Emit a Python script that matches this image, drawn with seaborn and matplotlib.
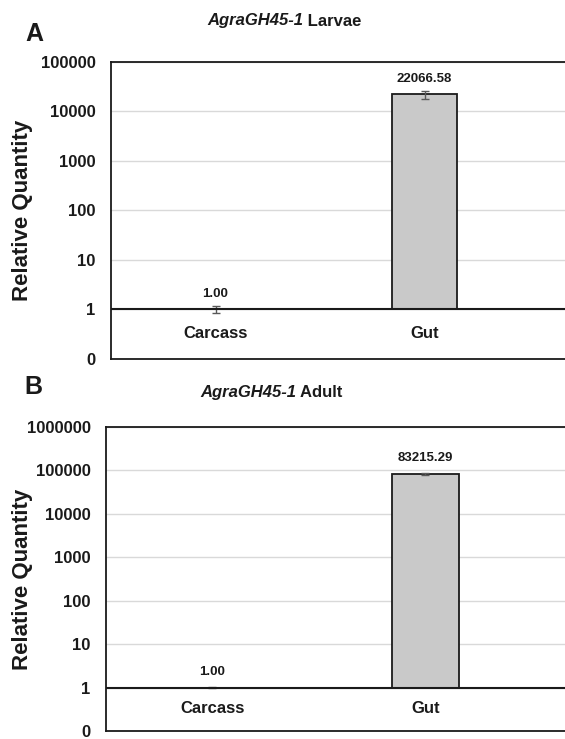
import seaborn as sns
import matplotlib.pyplot as plt
import pandas as pd
from matplotlib.ticker import NullLocator

# ----------------------------
# Data
# ----------------------------
tissues = ['Carcass', 'Gut']

larvae_values = [1.00, 22066.58]
larvae_errors = [0.15, 4000]
larvae_ticks = [0.1, 1, 10, 100, 1000, 10000, 100000]
larvae_tick_labels = ['0', '1', '10', '100', '1000', '10000', '100000']

adult_values = [1.00, 83215.29]
adult_errors = [0.03, 5000]
adult_ticks = [0.1, 1, 10, 100, 1000, 10000, 100000, 1000000]
adult_tick_labels = ['0', '1', '10', '100', '1000', '10000', '100000', '1000000']

INK = '#1a1a1a'

sns.set_style("white")
plt.rcParams['font.family'] = ['Liberation Sans', 'DejaVu Sans']


def draw_panel(ax, values, errors, ticks, tick_labels, xmax, ylabel_x):
    df = pd.DataFrame({'Tissue': tissues, 'Quantity': values})
    sns.barplot(data=df, x='Tissue', y='Quantity', ax=ax, color='#c9c9c9',
                edgecolor=INK, linewidth=1.3, width=0.31, errorbar=None,
                saturation=1, zorder=3)
    ax.set_yscale('log')
    # Excel style: bars grow from the horizontal axis that crosses at 1
    for bar, v in zip(ax.patches, values):
        bar.set_y(1)
        bar.set_height(v - 1)

    ax.errorbar(range(len(tissues)), values, yerr=errors, fmt='none',
                ecolor='#595959', elinewidth=1, capsize=3, capthick=1, zorder=4)

    for i, v in enumerate(values):
        ax.annotate(f'{v:.2f}', (i, v), xytext=(0, 7), textcoords='offset points',
                    ha='center', va='bottom', fontsize=9.5, fontweight='bold',
                    color=INK)
        ax.text(i, 0.33, tissues[i], ha='center', va='center', fontsize=12,
                fontweight='bold', color=INK)

    ax.axhline(1, color=INK, lw=1.5, zorder=5)

    ax.set_ylim(ticks[0], ticks[-1])
    ax.set_xlim(-0.5, xmax)
    ax.set_yticks(ticks)
    ax.set_yticklabels(tick_labels)
    ax.yaxis.set_minor_locator(NullLocator())
    ax.tick_params(axis='y', length=0, pad=11, labelsize=12, labelcolor=INK)
    for lbl in ax.get_yticklabels():
        lbl.set_fontweight('bold')
    ax.tick_params(axis='x', length=0, labelbottom=False)
    ax.set_xlabel('')

    ax.set_axisbelow(True)
    ax.yaxis.grid(True, color='#d9d9d9', lw=1)

    for side in ['left', 'top', 'bottom']:
        ax.spines[side].set_color(INK)
        ax.spines[side].set_linewidth(1.3)
    ax.spines['right'].set_visible(False)

    ax.set_ylabel('Relative Quantity', fontsize=16, fontweight='bold', color=INK)
    ax.yaxis.set_label_coords(ylabel_x, 0.5)


W, H = 565, 739
fig = plt.figure(figsize=(W / 100, H / 100), dpi=100)

ax_a = fig.add_axes([111 / W, 1 - 359 / H, (W - 111) / W, (359 - 62) / H])
draw_panel(ax_a, larvae_values, larvae_errors, larvae_ticks, larvae_tick_labels,
           1.672, -0.172)

ax_b = fig.add_axes([106 / W, 1 - 731 / H, (W - 106) / W, (731 - 427) / H])
draw_panel(ax_b, adult_values, adult_errors, adult_ticks, adult_tick_labels,
           1.655, -0.159)

# Panel letters and titles
fig.text(34 / W, 1 - 34 / H, 'A', fontsize=18, fontweight='bold', ha='center',
         va='center', color=INK)
fig.text(33 / W, 1 - 387 / H, 'B', fontsize=18, fontweight='bold', ha='center',
         va='center', color=INK)

fig.text(303 / W, 1 - 21 / H, 'AgraGH45-1', fontsize=12, fontweight='bold',
         style='italic', ha='right', va='center', color=INK)
fig.text(303 / W, 1 - 21 / H, ' Larvae', fontsize=12, fontweight='bold',
         ha='left', va='center', color=INK)
fig.text(296 / W, 1 - 392 / H, 'AgraGH45-1', fontsize=12, fontweight='bold',
         style='italic', ha='right', va='center', color=INK)
fig.text(296 / W, 1 - 392 / H, ' Adult', fontsize=12, fontweight='bold',
         ha='left', va='center', color=INK)

plt.savefig('out.png', dpi=100)
plt.close()
